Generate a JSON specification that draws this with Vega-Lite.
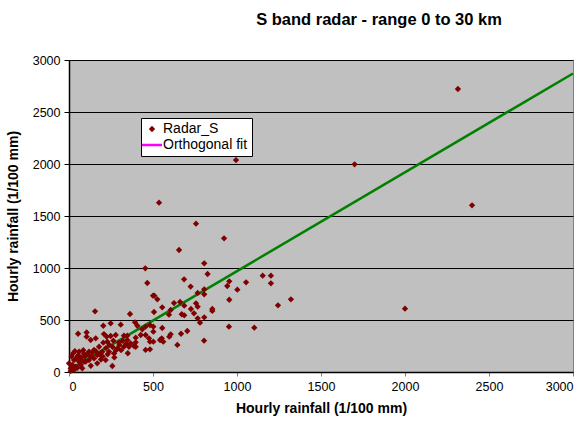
{
  "$schema": "https://vega.github.io/schema/vega-lite/v6.json",
  "autosize": {"type": "none"},
  "width": 504,
  "height": 312,
  "padding": {"left": 69, "top": 60, "right": 14, "bottom": 56},
  "background": "white",
  "title": {
    "text": "S band radar - range 0 to 30 km",
    "font": "Liberation Sans",
    "fontSize": 16.5,
    "fontWeight": "bold",
    "color": "black",
    "anchor": "middle",
    "dx": 58,
    "offset": 26
  },
  "config": {
    "view": {"fill": "#C0C0C0", "stroke": "#808080", "strokeWidth": 1},
    "axis": {
      "labelFont": "Liberation Sans",
      "labelFontSize": 12.5,
      "labelColor": "black",
      "titleFont": "Liberation Sans",
      "titleFontSize": 14,
      "titleFontWeight": "bold",
      "titleColor": "black",
      "domainColor": "black",
      "domainWidth": 1.5,
      "tickColor": "black",
      "tickSize": 5,
      "format": "d"
    }
  },
  "datasets": {
    "points": [
      {"x": 994, "y": 2038, "series": "Radar_S"}, {"x": 1700, "y": 1997, "series": "Radar_S"}, {"x": 2315, "y": 2721, "series": "Radar_S"},
      {"x": 2399, "y": 1603, "series": "Radar_S"}, {"x": 2000, "y": 609, "series": "Radar_S"}, {"x": 536, "y": 1628, "series": "Radar_S"},
      {"x": 756, "y": 1426, "series": "Radar_S"}, {"x": 923, "y": 1285, "series": "Radar_S"}, {"x": 655, "y": 1173, "series": "Radar_S"},
      {"x": 805, "y": 1045, "series": "Radar_S"}, {"x": 825, "y": 942, "series": "Radar_S"}, {"x": 685, "y": 891, "series": "Radar_S"},
      {"x": 954, "y": 872, "series": "Radar_S"}, {"x": 1054, "y": 862, "series": "Radar_S"}, {"x": 724, "y": 821, "series": "Radar_S"},
      {"x": 942, "y": 827, "series": "Radar_S"}, {"x": 1002, "y": 792, "series": "Radar_S"}, {"x": 805, "y": 795, "series": "Radar_S"},
      {"x": 805, "y": 747, "series": "Radar_S"}, {"x": 766, "y": 760, "series": "Radar_S"}, {"x": 508, "y": 734, "series": "Radar_S"},
      {"x": 526, "y": 699, "series": "Radar_S"}, {"x": 954, "y": 695, "series": "Radar_S"}, {"x": 625, "y": 663, "series": "Radar_S"},
      {"x": 661, "y": 673, "series": "Radar_S"}, {"x": 756, "y": 660, "series": "Radar_S"}, {"x": 454, "y": 997, "series": "Radar_S"},
      {"x": 466, "y": 856, "series": "Radar_S"}, {"x": 500, "y": 734, "series": "Radar_S"}, {"x": 1153, "y": 926, "series": "Radar_S"},
      {"x": 1202, "y": 926, "series": "Radar_S"}, {"x": 1202, "y": 853, "series": "Radar_S"}, {"x": 1321, "y": 699, "series": "Radar_S"},
      {"x": 1244, "y": 641, "series": "Radar_S"}, {"x": 1103, "y": 426, "series": "Radar_S"},
      {"x": 506, "y": 577, "series": "Radar_S"}, {"x": 555, "y": 622, "series": "Radar_S"}, {"x": 686, "y": 638, "series": "Radar_S"},
      {"x": 766, "y": 628, "series": "Radar_S"}, {"x": 726, "y": 606, "series": "Radar_S"}, {"x": 744, "y": 564, "series": "Radar_S"},
      {"x": 671, "y": 555, "series": "Radar_S"}, {"x": 686, "y": 545, "series": "Radar_S"}, {"x": 605, "y": 596, "series": "Radar_S"},
      {"x": 595, "y": 551, "series": "Radar_S"}, {"x": 853, "y": 606, "series": "Radar_S"}, {"x": 853, "y": 587, "series": "Radar_S"},
      {"x": 805, "y": 526, "series": "Radar_S"}, {"x": 766, "y": 516, "series": "Radar_S"}, {"x": 780, "y": 474, "series": "Radar_S"},
      {"x": 952, "y": 436, "series": "Radar_S"}, {"x": 502, "y": 436, "series": "Radar_S"}, {"x": 502, "y": 388, "series": "Radar_S"},
      {"x": 555, "y": 423, "series": "Radar_S"}, {"x": 482, "y": 292, "series": "Radar_S"}, {"x": 502, "y": 292, "series": "Radar_S"},
      {"x": 552, "y": 324, "series": "Radar_S"}, {"x": 561, "y": 292, "series": "Radar_S"}, {"x": 597, "y": 340, "series": "Radar_S"},
      {"x": 605, "y": 362, "series": "Radar_S"}, {"x": 667, "y": 368, "series": "Radar_S"}, {"x": 704, "y": 394, "series": "Radar_S"},
      {"x": 645, "y": 260, "series": "Radar_S"}, {"x": 804, "y": 301, "series": "Radar_S"}, {"x": 482, "y": 218, "series": "Radar_S"},
      {"x": 542, "y": 308, "series": "Radar_S"},
      {"x": 155, "y": 583, "series": "Radar_S"}, {"x": 54, "y": 368, "series": "Radar_S"}, {"x": 105, "y": 381, "series": "Radar_S"},
      {"x": 105, "y": 340, "series": "Radar_S"}, {"x": 129, "y": 308, "series": "Radar_S"}, {"x": 159, "y": 324, "series": "Radar_S"},
      {"x": 204, "y": 445, "series": "Radar_S"}, {"x": 248, "y": 468, "series": "Radar_S"}, {"x": 308, "y": 455, "series": "Radar_S"},
      {"x": 363, "y": 558, "series": "Radar_S"}, {"x": 393, "y": 478, "series": "Radar_S"}, {"x": 407, "y": 445, "series": "Radar_S"},
      {"x": 436, "y": 410, "series": "Radar_S"}, {"x": 456, "y": 436, "series": "Radar_S"}, {"x": 482, "y": 452, "series": "Radar_S"},
      {"x": 208, "y": 365, "series": "Radar_S"}, {"x": 224, "y": 340, "series": "Radar_S"}, {"x": 248, "y": 346, "series": "Radar_S"},
      {"x": 278, "y": 356, "series": "Radar_S"}, {"x": 327, "y": 349, "series": "Radar_S"}, {"x": 347, "y": 349, "series": "Radar_S"},
      {"x": 397, "y": 330, "series": "Radar_S"}, {"x": 397, "y": 285, "series": "Radar_S"}, {"x": 387, "y": 250, "series": "Radar_S"},
      {"x": 357, "y": 243, "series": "Radar_S"}, {"x": 327, "y": 243, "series": "Radar_S"}, {"x": 298, "y": 282, "series": "Radar_S"},
      {"x": 264, "y": 301, "series": "Radar_S"}, {"x": 228, "y": 292, "series": "Radar_S"}, {"x": 204, "y": 282, "series": "Radar_S"},
      {"x": 179, "y": 243, "series": "Radar_S"}, {"x": 149, "y": 212, "series": "Radar_S"}, {"x": 119, "y": 195, "series": "Radar_S"},
      {"x": 89, "y": 179, "series": "Radar_S"}, {"x": 60, "y": 195, "series": "Radar_S"}, {"x": 50, "y": 147, "series": "Radar_S"},
      {"x": 30, "y": 115, "series": "Radar_S"}, {"x": 20, "y": 67, "series": "Radar_S"}, {"x": 40, "y": 51, "series": "Radar_S"},
      {"x": 70, "y": 67, "series": "Radar_S"}, {"x": 89, "y": 99, "series": "Radar_S"}, {"x": 119, "y": 115, "series": "Radar_S"},
      {"x": 149, "y": 131, "series": "Radar_S"}, {"x": 168, "y": 163, "series": "Radar_S"}, {"x": 168, "y": 83, "series": "Radar_S"},
      {"x": 258, "y": 58, "series": "Radar_S"}, {"x": 218, "y": 115, "series": "Radar_S"}, {"x": 198, "y": 195, "series": "Radar_S"},
      {"x": 238, "y": 195, "series": "Radar_S"}, {"x": 268, "y": 179, "series": "Radar_S"}, {"x": 288, "y": 227, "series": "Radar_S"},
      {"x": 347, "y": 308, "series": "Radar_S"}, {"x": 367, "y": 276, "series": "Radar_S"}, {"x": 456, "y": 212, "series": "Radar_S"},
      {"x": 397, "y": 243, "series": "Radar_S"}, {"x": 476, "y": 324, "series": "Radar_S"}, {"x": 456, "y": 356, "series": "Radar_S"},
      {"x": 427, "y": 356, "series": "Radar_S"}, {"x": 79, "y": 35, "series": "Radar_S"}, {"x": 10, "y": 35, "series": "Radar_S"},
      {"x": 0, "y": 83, "series": "Radar_S"}, {"x": 60, "y": 99, "series": "Radar_S"},
      {"x": 15, "y": 150, "series": "Radar_S"}, {"x": 25, "y": 180, "series": "Radar_S"}, {"x": 35, "y": 200, "series": "Radar_S"},
      {"x": 45, "y": 130, "series": "Radar_S"}, {"x": 55, "y": 160, "series": "Radar_S"}, {"x": 65, "y": 120, "series": "Radar_S"},
      {"x": 75, "y": 140, "series": "Radar_S"}, {"x": 85, "y": 210, "series": "Radar_S"}, {"x": 95, "y": 150, "series": "Radar_S"},
      {"x": 110, "y": 170, "series": "Radar_S"}, {"x": 130, "y": 150, "series": "Radar_S"}, {"x": 140, "y": 190, "series": "Radar_S"},
      {"x": 160, "y": 200, "series": "Radar_S"}, {"x": 180, "y": 170, "series": "Radar_S"}, {"x": 200, "y": 150, "series": "Radar_S"},
      {"x": 220, "y": 230, "series": "Radar_S"}, {"x": 240, "y": 260, "series": "Radar_S"}, {"x": 260, "y": 240, "series": "Radar_S"},
      {"x": 280, "y": 210, "series": "Radar_S"}, {"x": 300, "y": 260, "series": "Radar_S"}, {"x": 320, "y": 300, "series": "Radar_S"},
      {"x": 340, "y": 270, "series": "Radar_S"}, {"x": 10, "y": 10, "series": "Radar_S"}, {"x": 30, "y": 20, "series": "Radar_S"},
      {"x": 50, "y": 40, "series": "Radar_S"}, {"x": 100, "y": 100, "series": "Radar_S"}, {"x": 130, "y": 60, "series": "Radar_S"},
      {"x": 190, "y": 120, "series": "Radar_S"}, {"x": 230, "y": 170, "series": "Radar_S"}, {"x": 270, "y": 140, "series": "Radar_S"},
      {"x": 310, "y": 210, "series": "Radar_S"}, {"x": 350, "y": 180, "series": "Radar_S"}
    ],
    "fit": [
      {"x": 0, "y": 20},
      {"x": 3000, "y": 2870}
    ]
  },
  "layer": [
    {
      "data": {"name": "fit"},
      "mark": {"type": "line", "color": "#008000", "strokeWidth": 2.5, "clip": false},
      "encoding": {
        "x": {"field": "x", "type": "quantitative"},
        "y": {"field": "y", "type": "quantitative"}
      }
    },
    {
      "data": {"name": "points"},
      "mark": {"type": "point", "filled": true, "opacity": 1},
      "encoding": {
        "x": {
          "field": "x", "type": "quantitative",
          "scale": {"domain": [0, 3000], "nice": false},
          "axis": {
            "values": [0, 500, 1000, 1500, 2000, 2500, 3000],
            "grid": false,
            "title": "Hourly rainfall (1/100 mm)",
            "labelPadding": 4,
            "titlePadding": 9,
            "tickSize": 4,
            "tickColor": "#808080"
          }
        },
        "y": {
          "field": "y", "type": "quantitative",
          "scale": {"domain": [0, 3000], "nice": false},
          "axis": {
            "values": [0, 500, 1000, 1500, 2000, 2500, 3000],
            "grid": true,
            "gridColor": "black",
            "gridWidth": 1.2,
            "gridOpacity": 1,
            "title": "Hourly rainfall (1/100 mm)",
            "labelPadding": 4,
            "titlePadding": 12
          }
        },
        "color": {
          "field": "series", "type": "nominal",
          "scale": {"domain": ["Radar_S", "Orthogonal fit"], "range": ["#800000", "#FF00FF"]},
          "legend": {
            "title": null,
            "orient": "none",
            "legendX": 72,
            "legendY": 58,
            "fillColor": "white",
            "strokeColor": "black",
            "padding": 4,
            "rowPadding": 2,
            "labelFont": "Liberation Sans",
            "labelFontSize": 14,
            "labelColor": "black",
            "labelOffset": 4,
            "symbolOpacity": 1,
            "encode": {
              "symbols": {
                "update": {
                  "stroke": {"signal": "datum.value === 'Orthogonal fit' ? '#FF00FF' : '#800000'"},
                  "strokeWidth": {"signal": "datum.value === 'Orthogonal fit' ? 2.5 : 0"}
                }
              }
            }
          }
        },
        "shape": {
          "field": "series", "type": "nominal",
          "scale": {"domain": ["Radar_S", "Orthogonal fit"], "range": ["diamond", "stroke"]}
        },
        "size": {
          "field": "series", "type": "nominal",
          "scale": {"domain": ["Radar_S", "Orthogonal fit"], "range": [40, 400]}
        }
      }
    }
  ]
}
